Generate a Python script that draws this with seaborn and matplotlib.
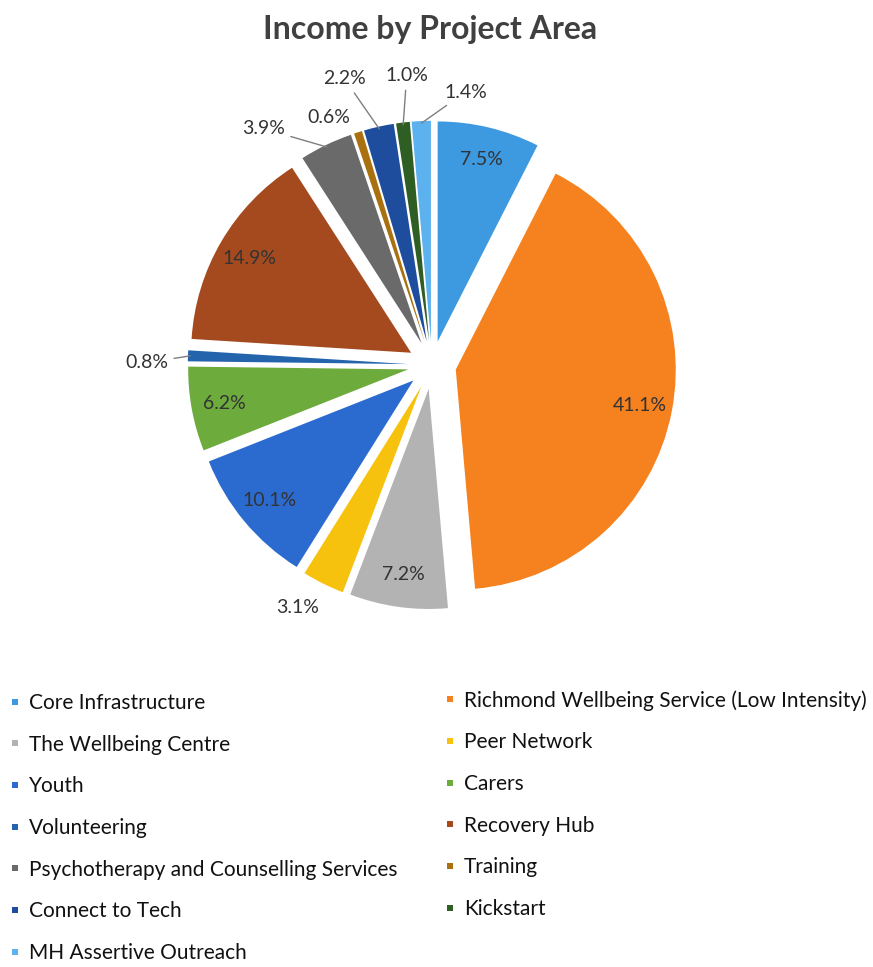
import math
import matplotlib
matplotlib.use("Agg")
import matplotlib.pyplot as plt
from matplotlib.lines import Line2D
import seaborn as sns

# Income shares by project area (percent), clockwise from 12 o'clock
areas = [
    "Core Infrastructure",
    "Richmond Wellbeing Service (Low Intensity)",
    "The Wellbeing Centre",
    "Peer Network",
    "Youth",
    "Carers",
    "Volunteering",
    "Recovery Hub",
    "Psychotherapy and Counselling Services",
    "Training",
    "Connect to Tech",
    "Kickstart",
    "MH Assertive Outreach",
]
shares = [7.5, 41.1, 7.2, 3.1, 10.1, 6.2, 0.8, 14.9, 3.9, 0.6, 2.2, 1.0, 1.4]
colors = [
    "#3d9ae0", "#f5821f", "#b3b3b3", "#f7c20e", "#2b6bcf", "#6cab3c",
    "#2364ad", "#a54a1f", "#6a6a6a", "#a8700f", "#1f4d9e", "#2f5e24",
    "#5cb1ef",
]

sns.set_theme(style="white")
plt.rcParams["font.family"] = ["Lato", "DejaVu Sans"]

W, H = 873, 967
CX, CY, R = 432, 365, 220          # pie centre / radius in pixels

fig = plt.figure(figsize=(W / 100, H / 100), dpi=100)
ax = fig.add_axes([0, 0, 1, 1])

wedges, _ = ax.pie(
    shares, colors=colors, startangle=90, counterclock=False,
    explode=[0.11] * len(shares), radius=1.0,
    wedgeprops=dict(linewidth=0),
)
# one data unit = one pie radius
ax.set_xlim(-CX / R, (W - CX) / R)
ax.set_ylim(-(H - CY) / R, CY / R)
ax.set_aspect("equal")
ax.axis("off")

txt_color = "#333333"

# outside labels: (clockwise angle from top, distance in radii)
outside = {
    3: (209, 1.26),
    6: (270.5, 1.20),
    8: (324.5, 1.32),
    9: (337.5, 1.22),
    10: (343, 1.36),
    11: (355, 1.32),
    12: (7, 1.25),
}
leaders = {6, 8, 10, 11, 12}


def polar(ang, r):
    a = math.radians(ang)
    return r * math.sin(a), r * math.cos(a)


for i, (w, v) in enumerate(zip(wedges, shares)):
    mid = math.radians(0.5 * (w.theta1 + w.theta2))
    cx, cy = w.center
    label = f"{v:.1f}%"
    if i not in outside:
        x = cx + 0.85 * math.cos(mid)
        y = cy + 0.85 * math.sin(mid)
        ax.text(x, y, label, ha="center", va="center", fontsize=14,
                color=txt_color)
    else:
        ang, rr = outside[i]
        tx, ty = polar(ang, rr)
        ex = cx + 0.99 * math.cos(mid)
        ey = cy + 0.99 * math.sin(mid)
        ha = "right" if i == 6 else "center"
        if i in leaders:
            ax.annotate(label, xy=(ex, ey), xytext=(tx, ty), ha=ha,
                        va="center", fontsize=14, color=txt_color,
                        arrowprops=dict(arrowstyle="-", color="#7f7f7f",
                                        lw=1.0, shrinkA=2, shrinkB=0))
        else:
            ax.text(tx, ty, label, ha=ha, va="center", fontsize=14,
                    color=txt_color)

fig.text(430 / W, 1 - 30 / H, "Income by Project Area", ha="center",
         va="center", fontsize=23, fontweight="bold", color="#404040")

# two-column legend, read row by row
handles = [Line2D([], [], marker="s", linestyle="none", markersize=5,
                  markerfacecolor=c, markeredgewidth=0) for c in colors]
common = dict(frameon=False, fontsize=15, handlelength=0.6,
              handletextpad=0.35, labelspacing=1.04, borderpad=0,
              borderaxespad=0, loc="upper left",
              bbox_transform=fig.transFigure, labelcolor="#111111")
left_idx = list(range(0, len(areas), 2))
right_idx = list(range(1, len(areas), 2))
leg1 = fig.legend([handles[i] for i in left_idx], [areas[i] for i in left_idx],
                  bbox_to_anchor=(9 / W, 1 - 693 / H), **common)
leg2 = fig.legend([handles[i] for i in right_idx], [areas[i] for i in right_idx],
                  bbox_to_anchor=(444 / W, 1 - 690 / H), **common)

fig.savefig("out.png", dpi=100)
